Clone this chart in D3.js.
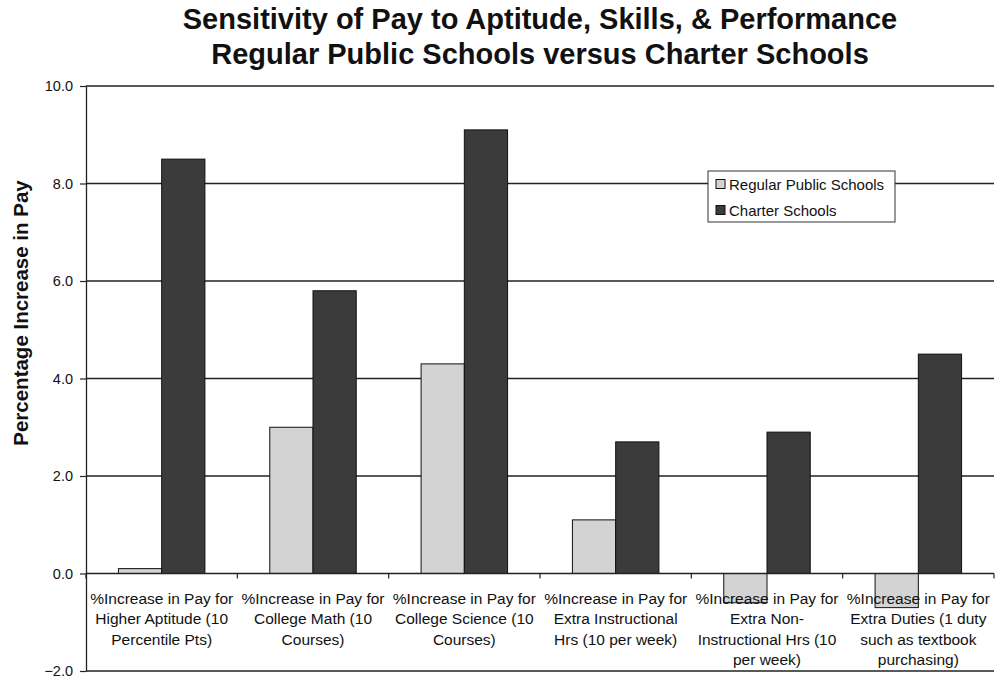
<!DOCTYPE html>
<html>
<head>
<meta charset="utf-8">
<script src="https://cdn.jsdelivr.net/npm/d3@7"></script>
<style>
  html, body { margin: 0; padding: 0; background: #fff; }
  svg { display: block; font-family: Arial, "Liberation Sans", sans-serif; }
</style>
</head>
<body>
<svg id="chart" width="1000" height="682"></svg>
<script>
// Pay sensitivity: regular public schools vs. charter schools
const categories = [
  ["%Increase in Pay for", "Higher Aptitude (10", "Percentile Pts)"],
  ["%Increase in Pay for", "College Math (10", "Courses)"],
  ["%Increase in Pay for", "College Science (10", "Courses)"],
  ["%Increase in Pay for", "Extra Instructional", "Hrs (10 per week)"],
  ["%Increase in Pay for", "Extra Non-", "Instructional Hrs (10", "per week)"],
  ["%Increase in Pay for", "Extra Duties (1 duty", "such as textbook", "purchasing)"]
];
const seriesNames = ["Regular Public Schools", "Charter Schools"];
const regularValues = [0.1, 3.0, 4.3, 1.1, -0.6, -0.7];
const charterValues = [8.5, 5.8, 9.1, 2.7, 2.9, 4.5];
const yTicks = [-2, 0, 2, 4, 6, 8, 10];
const titleLines = [
  "Sensitivity of Pay to Aptitude, Skills, & Performance",
  "Regular Public Schools versus Charter Schools"
];
const yTitle = "Percentage Increase in Pay";

const colors = ["#d3d3d3", "#3b3b3b"];
const seriesValues = [regularValues, charterValues];

const svg = d3.select("#chart");
const plot = { left: 86, right: 994, top: 86, bottom: 671 };

const x = d3.scaleBand()
  .domain(d3.range(categories.length))
  .range([plot.left, plot.right])
  .paddingInner(0).paddingOuter(0);

const x1 = d3.scaleBand()
  .domain(d3.range(seriesNames.length))
  .range([0, x.bandwidth()])
  .paddingInner(0)
  .paddingOuter(0.75);

const y = d3.scaleLinear().domain([-2, 10]).range([plot.bottom, plot.top]);

// Title
svg.append("g")
  .selectAll("text")
  .data(titleLines)
  .join("text")
  .attr("x", 540)
  .attr("y", (d, i) => 29 + i * 35)
  .attr("text-anchor", "middle")
  .attr("font-size", 29)
  .attr("font-weight", "bold")
  .attr("fill", "#111")
  .text(d => d);

// Horizontal gridlines
svg.append("g")
  .selectAll("line")
  .data(yTicks.filter(t => t !== 0))
  .join("line")
  .attr("x1", plot.left).attr("x2", plot.right)
  .attr("y1", d => y(d)).attr("y2", d => y(d))
  .attr("stroke", "#222").attr("stroke-width", 1.3);

// Bars
const groups = svg.append("g")
  .selectAll("g")
  .data(categories.map((c, i) => i))
  .join("g")
  .attr("transform", i => `translate(${x(i)},0)`);

groups.selectAll("rect")
  .data(i => seriesValues.map((vals, s) => ({ s, v: vals[i] })))
  .join("rect")
  .attr("x", d => x1(d.s))
  .attr("width", x1.bandwidth())
  .attr("y", d => y(Math.max(0, d.v)))
  .attr("height", d => Math.abs(y(d.v) - y(0)))
  .attr("fill", d => colors[d.s])
  .attr("stroke", "#111")
  .attr("stroke-width", 1);

// Category axis at zero, with tick marks at the category boundaries
const catAxis = svg.append("g");
catAxis.append("line")
  .attr("x1", plot.left).attr("x2", plot.right)
  .attr("y1", y(0)).attr("y2", y(0))
  .attr("stroke", "#222").attr("stroke-width", 1.3);
catAxis.selectAll("line.tick")
  .data(d3.range(categories.length + 1))
  .join("line")
  .attr("class", "tick")
  .attr("x1", i => plot.left + i * x.bandwidth())
  .attr("x2", i => plot.left + i * x.bandwidth())
  .attr("y1", y(0)).attr("y2", y(0) + 5)
  .attr("stroke", "#222").attr("stroke-width", 1.2);

// Category labels
const labels = svg.append("g")
  .selectAll("text")
  .data(categories)
  .join("text")
  .attr("text-anchor", "middle")
  .attr("font-size", 15.5)
  .attr("fill", "#111")
  .attr("transform", (d, i) => `translate(${x(i) + x.bandwidth() / 2},${y(0) + 30})`);
labels.selectAll("tspan")
  .data(d => d)
  .join("tspan")
  .attr("x", 0)
  .attr("y", (d, j) => j * 20.6)
  .text(d => d);

// Value axis
const yAxis = d3.axisLeft(y)
  .tickValues(yTicks)
  .tickFormat(d3.format(".1f"))
  .tickSize(6)
  .tickSizeOuter(0);
const yg = svg.append("g")
  .attr("transform", `translate(${plot.left},0)`)
  .call(yAxis);
yg.select(".domain").attr("stroke", "#222").attr("stroke-width", 1.3);
yg.selectAll(".tick line").attr("stroke", "#222").attr("stroke-width", 1.2);
yg.selectAll(".tick text")
  .attr("font-family", "Arial, 'Liberation Sans', sans-serif")
  .attr("font-size", 14.5)
  .attr("fill", "#111")
  .attr("x", -13);

// Value axis title
svg.append("text")
  .attr("transform", "translate(28,313) rotate(-90)")
  .attr("text-anchor", "middle")
  .attr("font-size", 20.5)
  .attr("font-weight", "bold")
  .attr("fill", "#111")
  .text(yTitle);

// Legend
const legend = svg.append("g").attr("transform", "translate(708,171)");
legend.append("rect")
  .attr("width", 187).attr("height", 51)
  .attr("fill", "#fff").attr("stroke", "#333").attr("stroke-width", 1);
const items = legend.selectAll("g")
  .data(seriesNames)
  .join("g")
  .attr("transform", (d, i) => `translate(8,${13 + i * 26})`);
items.append("rect")
  .attr("x", 0).attr("y", -4.5)
  .attr("width", 9).attr("height", 9)
  .attr("fill", (d, i) => colors[i])
  .attr("stroke", "#111").attr("stroke-width", 1);
items.append("text")
  .attr("x", 13).attr("y", 5.5)
  .attr("font-size", 15)
  .attr("fill", "#111")
  .text(d => d);
</script>
</body>
</html>
